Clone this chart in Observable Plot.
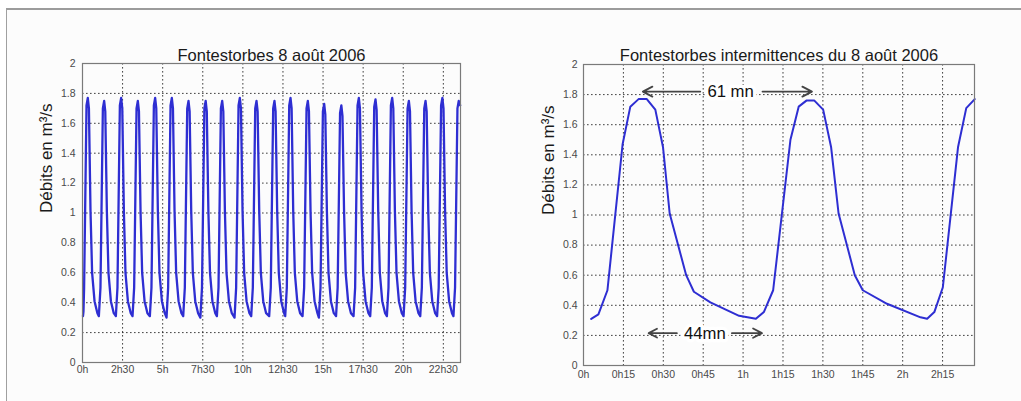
<!DOCTYPE html>
<html>
<head>
<meta charset="utf-8">
<script src="https://cdn.jsdelivr.net/npm/d3@7"></script>
<script src="https://cdn.jsdelivr.net/npm/@observablehq/plot@0.6"></script>
<style>
  html, body { margin: 0; padding: 0; background: #ffffff; }
  #wrap { position: relative; width: 1021px; height: 401px; overflow: hidden; font-family: "Liberation Sans", Arial, sans-serif; }
  #panel { position: absolute; left: 6px; top: 8px; width: 1030px; height: 410px; border-top: 2px solid #9c9c9c; border-left: 1.5px solid #a0a0a0; background: #fcfcfc; }
  #left, #right { position: absolute; top: 0; }
  #left { left: 0; }
  #right { left: 510px; }
</style>
</head>
<body>
<div id="wrap">
  <div id="panel"></div>
  <div id="left"></div>
  <div id="right"></div>
</div>
<script>
// ---------- Data ----------
const leftTitle = "Fontestorbes 8 août 2006";
const rightTitle = "Fontestorbes intermittences du 8 août 2006";
const yAxisLabel = "Débits en m³/s";

const yTicks = [0, 0.2, 0.4, 0.6, 0.8, 1, 1.2, 1.4, 1.6, 1.8, 2];
const yTickLabels = ["0", "0.2", "0.4", "0.6", "0.8", "1", "1.2", "1.4", "1.6", "1.8", "2"];

// Left chart: hours of the day
const leftTicks = [0, 2.5, 5, 7.5, 10, 12.5, 15, 17.5, 20, 22.5];
const leftTickLabels = ["0h", "2h30", "5h", "7h30", "10h", "12h30", "15h", "17h30", "20h", "22h30"];
const leftDomain = [0, 23.57];

const leftHours = [
  0.03, 0.06, 0.10, 0.25, 0.33, 0.40, 0.50, 0.60, 0.75, 0.93,
  1.02, 1.12, 1.27, 1.35, 1.42, 1.52, 1.62, 1.77, 1.95,
  2.08, 2.18, 2.33, 2.41, 2.48, 2.58, 2.68, 2.83, 3.01,
  3.12, 3.22, 3.37, 3.45, 3.52, 3.62, 3.72, 3.87, 4.05,
  4.20, 4.30, 4.45, 4.53, 4.60, 4.70, 4.80, 4.95, 5.13,
  5.24, 5.34, 5.49, 5.57, 5.64, 5.74, 5.84, 5.99, 6.17,
  6.28, 6.38, 6.53, 6.61, 6.68, 6.78, 6.88, 7.03, 7.21,
  7.35, 7.45, 7.60, 7.68, 7.75, 7.85, 7.95, 8.10, 8.28,
  8.38, 8.48, 8.63, 8.71, 8.78, 8.88, 8.98, 9.13, 9.31,
  9.48, 9.58, 9.73, 9.81, 9.88, 9.98, 10.08, 10.23, 10.41,
  10.52, 10.62, 10.77, 10.85, 10.92, 11.02, 11.12, 11.27, 11.45,
  11.64, 11.74, 11.89, 11.97, 12.04, 12.14, 12.24, 12.39, 12.57,
  12.64, 12.74, 12.89, 12.97, 13.04, 13.14, 13.24, 13.39, 13.57,
  13.72, 13.82, 13.97, 14.05, 14.12, 14.22, 14.32, 14.47, 14.65,
  14.74, 14.84, 14.99, 15.07, 15.14, 15.24, 15.34, 15.49, 15.67,
  15.81, 15.91, 16.06, 16.14, 16.21, 16.31, 16.41, 16.56, 16.74,
  16.90, 17.00, 17.15, 17.23, 17.30, 17.40, 17.50, 17.65, 17.83,
  17.94, 18.04, 18.19, 18.27, 18.34, 18.44, 18.54, 18.69, 18.87,
  18.98, 19.08, 19.23, 19.31, 19.38, 19.48, 19.58, 19.73, 19.91,
  20.02, 20.12, 20.27, 20.35, 20.42, 20.52, 20.62, 20.77, 20.95,
  21.06, 21.16, 21.31, 21.39, 21.46, 21.56, 21.66, 21.81, 21.99,
  22.11, 22.21, 22.36, 22.44, 22.51, 22.61, 22.71, 22.86, 23.04,
  23.13, 23.23, 23.38, 23.46, 23.55
];
const leftFlow = [
  0.31, 0.34, 0.50, 1.72, 1.77, 1.70, 1.01, 0.60, 0.41, 0.33,
  0.31, 0.50, 1.70, 1.75, 1.68, 1.01, 0.60, 0.41, 0.33,
  0.31, 0.50, 1.72, 1.77, 1.70, 1.01, 0.60, 0.41, 0.33,
  0.31, 0.50, 1.70, 1.75, 1.68, 1.01, 0.60, 0.41, 0.33,
  0.31, 0.50, 1.72, 1.77, 1.70, 1.01, 0.60, 0.41, 0.33,
  0.30, 0.50, 1.72, 1.77, 1.70, 1.01, 0.60, 0.41, 0.33,
  0.31, 0.50, 1.70, 1.75, 1.68, 1.01, 0.60, 0.41, 0.33,
  0.30, 0.50, 1.70, 1.75, 1.68, 1.01, 0.60, 0.41, 0.33,
  0.31, 0.50, 1.70, 1.75, 1.68, 1.01, 0.60, 0.41, 0.33,
  0.30, 0.50, 1.72, 1.77, 1.70, 1.01, 0.60, 0.41, 0.33,
  0.31, 0.50, 1.70, 1.75, 1.68, 1.01, 0.60, 0.41, 0.33,
  0.31, 0.50, 1.70, 1.75, 1.68, 1.01, 0.60, 0.41, 0.33,
  0.31, 0.50, 1.72, 1.77, 1.70, 1.01, 0.60, 0.41, 0.33,
  0.31, 0.50, 1.70, 1.75, 1.68, 1.01, 0.60, 0.41, 0.33,
  0.30, 0.50, 1.68, 1.73, 1.66, 1.01, 0.60, 0.41, 0.33,
  0.31, 0.50, 1.67, 1.72, 1.65, 1.01, 0.60, 0.41, 0.33,
  0.31, 0.50, 1.72, 1.77, 1.70, 1.01, 0.60, 0.41, 0.33,
  0.31, 0.50, 1.71, 1.76, 1.69, 1.01, 0.60, 0.41, 0.33,
  0.31, 0.50, 1.72, 1.77, 1.70, 1.01, 0.60, 0.41, 0.33,
  0.31, 0.50, 1.70, 1.75, 1.68, 1.01, 0.60, 0.41, 0.33,
  0.31, 0.50, 1.70, 1.75, 1.68, 1.01, 0.60, 0.41, 0.33,
  0.31, 0.50, 1.72, 1.77, 1.70, 1.01, 0.60, 0.41, 0.33,
  0.31, 0.50, 1.70, 1.75, 1.72
];

// Right chart: minutes since 0h
const rightTicks = [0, 15, 30, 45, 60, 75, 90, 105, 120, 135];
const rightTickLabels = ["0h", "0h15", "0h30", "0h45", "1h", "1h15", "1h30", "1h45", "2h", "2h15"];
const rightDomain = [0, 147];

const rightMinutes = [2.9, 5.6, 9.0, 14.7, 17.6, 20.7, 23.8, 27.0, 29.9, 32.4, 38.6, 41.5, 47.7, 58.5, 64.8, 67.8, 71.3, 77.8, 80.9, 83.8, 86.8, 90.1, 93.1, 95.9, 102.0, 105.0, 114.1, 126.7, 129.2, 131.9, 135.1, 140.8, 143.9, 147.1];
const rightFlow    = [0.31, 0.34, 0.50, 1.47, 1.72, 1.77, 1.77, 1.70, 1.45, 1.01, 0.60, 0.49, 0.42, 0.33, 0.31, 0.355, 0.50, 1.50, 1.72, 1.76, 1.76, 1.70, 1.45, 1.01, 0.60, 0.50, 0.41, 0.32, 0.31, 0.355, 0.52, 1.45, 1.71, 1.77];

// Annotations on right chart
const arrowTail = [43.9, 67.3, 35.1, 55.8];
const arrowHead = [22.3, 85.9, 24.5, 67.1];
const arrowLevel = [1.82, 1.82, 0.215, 0.215];
const noteText = ["61 mn", "44mn"];
const noteMinute = [55.3, 45.6];
const noteLevel = [1.82, 0.215];

// ---------- Helpers ----------
const FONT = "'Liberation Sans', Arial, sans-serif";
const LINE = "#2e2ed2";
const GRID = { stroke: "#111", strokeWidth: 1, strokeDasharray: "1.6,2.4", strokeOpacity: 0.8 };

function fmt(ticks, labels) { return d => labels[ticks.indexOf(d)] ?? ""; }

function chart({width, ml, mr, mt, mb, domain, ticks, tickLabels, xs, ys, title, titleDy, labelDx, xPad, yPad, lineWidth, extra = []}) {
  const rows = xs.map((x, i) => ({x, y: ys[i]}));
  return Plot.plot({
    width, height: 401,
    marginLeft: ml, marginRight: mr, marginTop: mt, marginBottom: mb,
    style: { background: "transparent", fontFamily: FONT, fontSize: "10.5px", color: "#4a4a4a", overflow: "visible" },
    x: { domain, ticks, tickFormat: fmt(ticks, tickLabels), tickSize: 0, tickPadding: xPad, label: null },
    y: { domain: [0, 2], ticks: yTicks, tickFormat: fmt(yTicks, yTickLabels), tickSize: 0, tickPadding: yPad, label: null },
    marks: [
      Plot.ruleX(ticks.filter(t => t > domain[0]), GRID),
      Plot.ruleY(yTicks.filter(t => t > 0 && t < 2), GRID),
      ...extra,
      Plot.line(rows, { x: "x", y: "y", stroke: LINE, strokeWidth: lineWidth, curve: "linear" }),
      Plot.frame({ stroke: "#7a7a7a", strokeWidth: 1.2 }),
      Plot.text([title], { text: d => d, frameAnchor: "top", dy: titleDy, fontSize: 16.5, fill: "#1a1a1a", fontFamily: FONT }),
      Plot.text([yAxisLabel], { text: d => d, frameAnchor: "left", dx: labelDx, rotate: -90, fontSize: 17, fill: "#1a1a1a", fontFamily: FONT })
    ]
  });
}

// ---------- Left chart ----------
document.getElementById("left").append(chart({
  width: 510, ml: 82, mr: 50, mt: 63, mb: 39,
  domain: leftDomain, ticks: leftTicks, tickLabels: leftTickLabels,
  xs: leftHours, ys: leftFlow, title: leftTitle, titleDy: -14, labelDx: -36, xPad: 3, yPad: 7, lineWidth: 2.3
}));

// ---------- Right chart ----------
const arrows = arrowTail.map((t, i) => ({x1: t, x2: arrowHead[i], y: arrowLevel[i]}));
const notes = noteText.map((s, i) => ({s, x: noteMinute[i], y: noteLevel[i]}));
document.getElementById("right").append(chart({
  width: 511, ml: 73, mr: 47, mt: 64, mb: 36,
  domain: rightDomain, ticks: rightTicks, tickLabels: rightTickLabels,
  xs: rightMinutes, ys: rightFlow, title: rightTitle, titleDy: -15, labelDx: -35, xPad: 5, yPad: 6, lineWidth: 2,
  extra: [
    Plot.text(notes, { x: "x", y: "y", text: "s", fontSize: 16.7, fill: "#111", stroke: "#fff", strokeWidth: 7, fontFamily: FONT }),
    Plot.arrow(arrows, { x1: "x1", x2: "x2", y1: "y", y2: "y", stroke: "#444", strokeWidth: 1.8, headLength: 9, headAngle: 55, bend: 0 })
  ]
}));
</script>
</body>
</html>
